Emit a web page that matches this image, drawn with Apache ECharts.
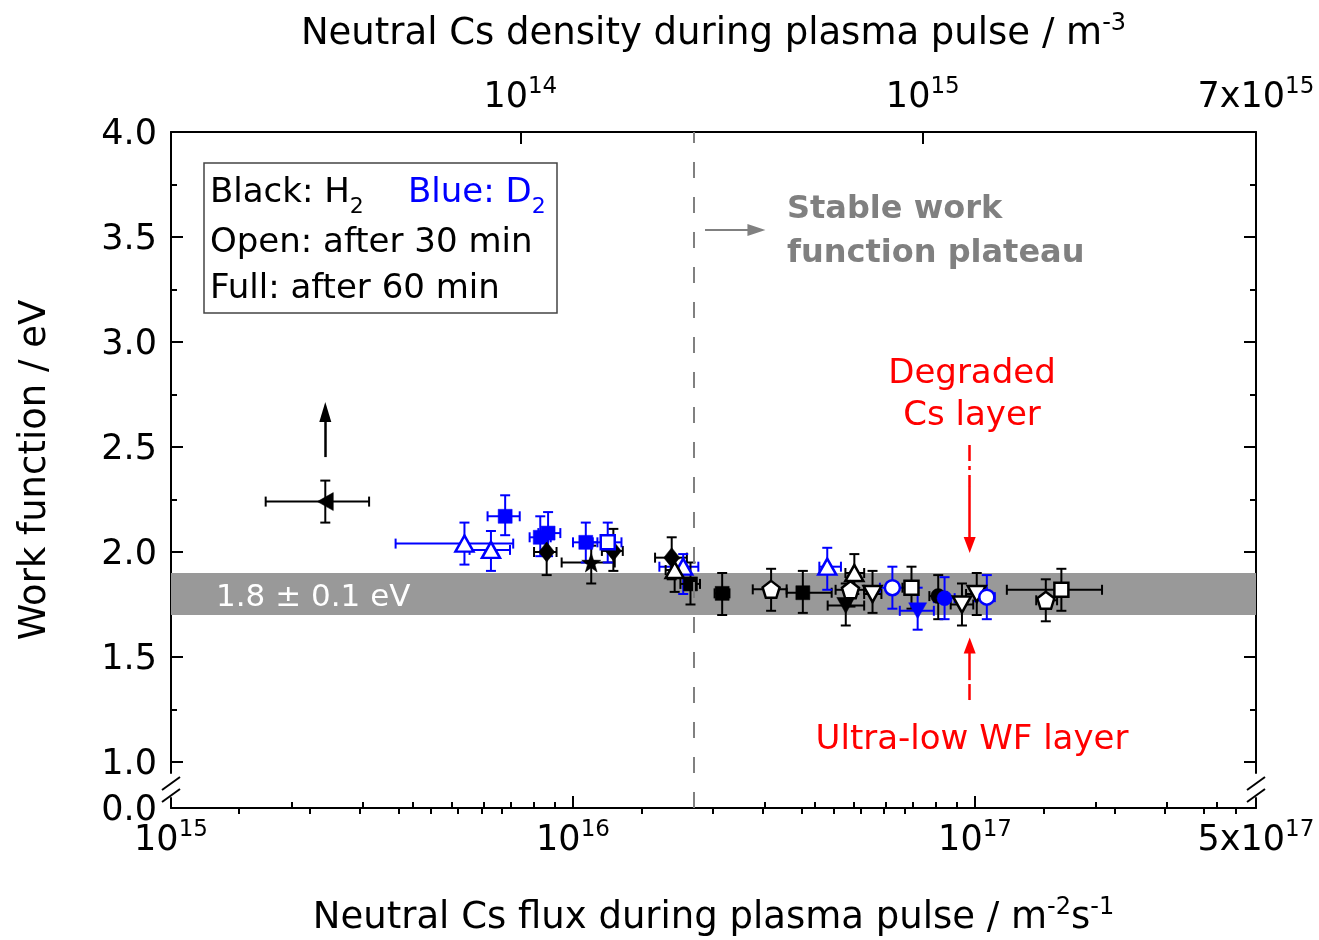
<!DOCTYPE html>
<html>
<head>
<meta charset="utf-8">
<script src="https://cdn.jsdelivr.net/npm/echarts@6.0.0/dist/echarts.min.js"></script>
<style>
html, body { margin: 0; padding: 0; background: #fff; }
#main { width: 1319px; height: 940px; }
</style>
</head>
<body>
<div id="main"></div>
<script>
// neutral Cs flux (m^-2 s^-1) with its error range
var flux =     [2.42e15, 5.37e15, 6.25e15, 6.78e15, 8.29e15, 8.67e15, 8.6e15, 1.11e16, 1.076e16, 1.26e16, 1.22e16, 1.76e16, 1.88e16, 1.79e16, 1.96e16, 2.35e16, 3.11e16, 3.73e16, 4.29e16, 4.77e16, 5.01e16, 4.9e16, 5.56e16, 6.23e16, 6.95e16, 7.2e16, 8.1e16, 8.4e16, 9.28e16, 1.01e17, 1.07e17, 1.5e17, 1.64e17]
var fluxLow =  [1.72e15, 3.62e15, 5.53e15, 6.13e15, 7.8e15, 8.2e15, 8.0e15, 9.37e15, 1.0e16, 1.18e16, 1.12e16, 1.6e16, 1.64e16, 1.7e16, 1.85e16, 2.25e16, 2.8e16, 3.4e16, 4.1e16, 4.3e16, 4.76e16, 4.5e16, 5.3e16, 5.8e16, 6.6e16, 6.5e16, 7.7e16, 7.9e16, 8.7e16, 9.5e16, 1.0e17, 1.42e17, 1.2e17]
var fluxHigh = [3.11e15, 7.1e15, 6.97e15, 7.37e15, 8.8e15, 9.3e15, 9.1e15, 1.27e16, 1.15e16, 1.33e16, 1.32e16, 1.92e16, 2.05e16, 1.9e16, 2.07e16, 2.45e16, 3.4e16, 4.4e16, 4.64e16, 5.3e16, 5.3e16, 5.3e16, 5.85e16, 6.7e16, 7.2e16, 7.9e16, 8.5e16, 8.9e16, 9.9e16, 1.07e17, 1.12e17, 1.6e17, 2.07e17]
// work function (eV) with its error range
var wf =       [2.24, 2.04, 2.01, 2.17, 2.07, 2.09, 2.00, 1.95, 2.046, 2.005, 2.046, 1.973, 1.93, 1.914, 1.848, 1.803, 1.822, 1.806, 1.93, 1.745, 1.90, 1.82, 1.80, 1.83, 1.83, 1.72, 1.79, 1.78, 1.75, 1.80, 1.785, 1.77, 1.82]
var wfLow =    [2.14, 1.94, 1.91, 2.08, 1.98, 1.98, 1.89, 1.85, 1.95, 1.91, 1.95, 1.87, 1.80, 1.81, 1.75, 1.70, 1.72, 1.71, 1.82, 1.65, 1.80, 1.74, 1.71, 1.73, 1.73, 1.63, 1.68, 1.68, 1.65, 1.70, 1.68, 1.67, 1.72]
var wfHigh =   [2.34, 2.14, 2.10, 2.27, 2.17, 2.19, 2.07, 2.03, 2.14, 2.11, 2.14, 2.07, 1.99, 1.97, 1.95, 1.90, 1.92, 1.91, 2.02, 1.85, 1.99, 1.90, 1.91, 1.93, 1.93, 1.83, 1.89, 1.88, 1.85, 1.90, 1.89, 1.87, 1.92]
var marker =   ['ltri', 'tri', 'tri', 'rect', 'rect', 'rect', 'diamond', 'star', 'rect', 'diamond', 'rect', 'diamond', 'tri', 'tri', 'rect', 'rect', 'pent', 'rect', 'tri', 'dtri', 'tri', 'pent', 'dtri', 'circle', 'rect', 'dtri', 'circle', 'circle', 'dtri', 'dtri', 'circle', 'pent', 'rect']
var gas =      ['H2', 'D2', 'D2', 'D2', 'D2', 'D2', 'H2', 'H2', 'D2', 'H2', 'D2', 'H2', 'D2', 'H2', 'H2', 'H2', 'H2', 'H2', 'D2', 'H2', 'H2', 'H2', 'H2', 'D2', 'H2', 'D2', 'H2', 'D2', 'H2', 'H2', 'D2', 'H2', 'H2']
var minutes =  [60, 30, 30, 60, 60, 60, 60, 60, 60, 60, 30, 60, 30, 30, 60, 60, 30, 60, 30, 60, 30, 30, 30, 30, 30, 60, 60, 60, 30, 30, 30, 30, 30]

// tick labels (axis ends sit a hair inside the extent so they are not dropped)
var xTickLabels = [1e15, 1e16, 1e17, 4.999e17]
var topTickLabels = [1e14, 1e15, 6.729e15]
var yTickLabels = [0, 1, 1.5, 2, 2.5, 3, 3.5, 4]

var BLACK = '#000000'
var BLUE = '#0000ff'
var RED = '#ff0000'
var GRAY = '#808080'
var FONT = 'DejaVu Sans'

var SYMBOLS = {
  rect: { symbol: 'rect', size: 14, rotate: 0 },
  tri: { symbol: 'triangle', size: [18, 16], rotate: 0 },
  dtri: { symbol: 'triangle', size: [18, 16], rotate: 180 },
  ltri: { symbol: 'triangle', size: [18, 16], rotate: 90 },
  diamond: { symbol: 'diamond', size: [16, 20], rotate: 0 },
  circle: { symbol: 'circle', size: 15, rotate: 0 },
  pent: { symbol: 'path://M0,-10L9.51,-3.09L5.88,8.09L-5.88,8.09L-9.51,-3.09Z', size: 17, rotate: 0 },
  star: { symbol: 'path://M0,-10L2.35,-3.24L9.51,-3.09L3.8,1.24L5.88,8.09L0,4L-5.88,8.09L-3.8,1.24L-9.51,-3.09L-2.35,-3.24Z', size: 19, rotate: 0 }
}

function logTicks (from, to, withMajor) {
  var out = []
  for (var e = from; e <= to; e++) {
    for (var m = withMajor ? 1 : 2; m <= 9; m++) out.push(m * Math.pow(10, e))
  }
  return out
}

function expLabel (v) {
  var e = Math.floor(Math.log10(v) + 1e-9)
  var m = Math.round(v / Math.pow(10, e))
  return (m === 1 ? '' : m + 'x') + '10{sup|' + e + '}'
}

var labelStyle = {
  color: BLACK,
  fontFamily: FONT,
  fontSize: 35,
  rich: { sup: { color: BLACK, fontFamily: FONT, fontSize: 23, padding: [0, 0, 21, 0] } }
}
var nameStyle = {
  color: BLACK,
  fontFamily: FONT,
  fontSize: 37,
  rich: { sup: { color: BLACK, fontFamily: FONT, fontSize: 24, padding: [0, 0, 20, 0] } }
}
var lineStyle = { color: BLACK, width: 2 }
var yBreaks = [{ start: 0.05, end: 0.95, gap: '3.7%' }]

function xAxisOf (pos, min, max, major, minor, labels, name, gap, margin) {
  return [{
    type: 'log',
    logBase: 10,
    min: min,
    max: max,
    position: pos,
    name: name,
    nameLocation: 'middle',
    nameGap: gap,
    nameTextStyle: nameStyle,
    axisLine: { onZero: false, lineStyle: lineStyle },
    axisTick: { inside: true, length: 12, lineStyle: lineStyle, customValues: major },
    axisLabel: Object.assign({ customValues: labels, formatter: expLabel, margin: margin, showMinLabel: true, showMaxLabel: true, hideOverlap: false }, labelStyle),
    splitLine: { show: false }
  }, {
    type: 'log',
    logBase: 10,
    min: min,
    max: max,
    position: pos,
    axisLine: { show: false },
    axisTick: { inside: true, length: 6, lineStyle: lineStyle, customValues: minor },
    axisLabel: { show: false },
    splitLine: { show: false }
  }]
}

function yAxisOf (pos, withLabels) {
  return [{
    type: 'value',
    min: 0,
    max: 4,
    position: pos,
    breaks: yBreaks,
    breakArea: { show: false },
    name: withLabels ? 'Work function / eV' : '',
    nameLocation: 'middle',
    nameRotate: 90,
    nameGap: 117,
    nameTextStyle: nameStyle,
    axisLine: { onZero: false, lineStyle: lineStyle },
    axisTick: { inside: true, length: 12, lineStyle: lineStyle, customValues: [1, 1.5, 2, 2.5, 3, 3.5] },
    axisLabel: withLabels
      ? Object.assign({ customValues: yTickLabels, formatter: function (v) { return v.toFixed(1) }, margin: 14, padding: [6, 0, 0, 0] }, labelStyle)
      : { show: false },
    splitLine: { show: false }
  }, {
    type: 'value',
    min: 0,
    max: 4,
    position: pos,
    breaks: yBreaks,
    breakArea: { show: false },
    axisLine: { show: false },
    axisTick: { inside: true, length: 6, lineStyle: lineStyle, customValues: [1.25, 1.75, 2.25, 2.75, 3.25, 3.75] },
    axisLabel: { show: false },
    splitLine: { show: false }
  }]
}

var errorData = flux.map(function (x, i) {
  return [x, wf[i], fluxLow[i], fluxHigh[i], wfLow[i], wfHigh[i], gas[i] === 'D2' ? 1 : 0]
})

var pointData = flux.map(function (x, i) {
  var color = gas[i] === 'D2' ? BLUE : BLACK
  var open = minutes[i] === 30
  var s = SYMBOLS[marker[i]]
  return {
    value: [x, wf[i]],
    symbol: s.symbol,
    symbolSize: s.size,
    symbolRotate: s.rotate,
    itemStyle: { color: open ? '#ffffff' : color, borderColor: color, borderWidth: open ? 2.5 : 0.5, opacity: 1 }
  }
})

function renderErrorBar (params, api) {
  var x = api.value(0)
  var y = api.value(1)
  var p = api.coord([x, y])
  var l = api.coord([api.value(2), y])
  var r = api.coord([api.value(3), y])
  var b = api.coord([x, api.value(4)])
  var t = api.coord([x, api.value(5)])
  var color = api.value(6) === 1 ? BLUE : BLACK
  var cap = 5
  var segs = [
    [l[0], p[1], r[0], p[1]],
    [l[0], p[1] - cap, l[0], p[1] + cap],
    [r[0], p[1] - cap, r[0], p[1] + cap],
    [p[0], b[1], p[0], t[1]],
    [p[0] - cap, b[1], p[0] + cap, b[1]],
    [p[0] - cap, t[1], p[0] + cap, t[1]]
  ]
  return {
    type: 'group',
    children: segs.map(function (s) {
      return { type: 'line', shape: { x1: s[0], y1: s[1], x2: s[2], y2: s[3] }, style: { stroke: color, lineWidth: 2 } }
    })
  }
}

function arrow (from, to, color, width, type, head) {
  return [
    { coord: from, symbol: 'none', lineStyle: { color: color, width: width, type: type } },
    { coord: to, symbol: head ? 'triangle' : 'none', symbolSize: head || 0 }
  ]
}

function text (x, y, str, style) {
  return {
    type: 'text',
    x: x,
    y: y,
    z: 100,
    style: Object.assign({ text: str, fontFamily: FONT, align: 'left', verticalAlign: 'middle' }, style)
  }
}

function slash (x1, y1, x2, y2) {
  return { type: 'line', z: 101, shape: { x1: x1, y1: y1, x2: x2, y2: y2 }, style: { stroke: BLACK, lineWidth: 2 } }
}

var chart = echarts.init(document.getElementById('main'))
chart.setOption({
  animation: false,
  backgroundColor: '#ffffff',
  grid: { left: 171, right: 63, top: 132, bottom: 132, containLabel: false, outerBoundsMode: 'none' },
  xAxis: []
    .concat(xAxisOf('bottom', 1e15, 5e17, [1e16, 1e17], logTicks(15, 16, false).concat([2e17, 3e17, 4e17]), xTickLabels,
      'Neutral Cs flux during plasma pulse / m{sup|-2}s{sup|-1}', 88, 11))
    .concat(xAxisOf('top', 1.355e13, 6.73e15, [1e14, 1e15], [2e13, 3e13, 4e13, 5e13, 6e13, 7e13, 8e13, 9e13].concat(logTicks(14, 14, false), [2e15, 3e15, 4e15, 5e15, 6e15]), topTickLabels,
      'Neutral Cs density during plasma pulse / m{sup|-3}', 76, 12)),
  yAxis: yAxisOf('left', true).concat(yAxisOf('right', false)),
  series: [
    {
      type: 'line',
      data: [],
      z: 1,
      markArea: {
        silent: true,
        itemStyle: { color: '#999999' },
        label: { show: true, position: 'insideLeft', distance: 45, offset: [0, 4], color: '#ffffff', fontFamily: FONT, fontSize: 31 },
        data: [[{ yAxis: 1.7, name: '1.8 ± 0.1 eV' }, { yAxis: 1.9 }]]
      }
    },
    {
      type: 'line',
      data: [],
      z: 2,
      markLine: {
        silent: true,
        symbol: ['none', 'none'],
        label: { show: false },
        data: [
          { xAxis: 2e16, lineStyle: { color: GRAY, width: 2, type: [16, 19] } },
          arrow([2.13e16, 3.533], [2.86e16, 3.533], GRAY, 2, 'solid', [12, 18]),
          arrow([2.42e15, 2.452], [2.42e15, 2.667], BLACK, 2.5, 'solid', [12, 20]),
          arrow([9.7e16, 2.51], [9.7e16, 2.31], RED, 2.5, [16, 5, 4, 5], null),
          arrow([9.7e16, 2.31], [9.7e16, 2.033], RED, 2.5, 'solid', [12, 16]),
          arrow([9.7e16, 1.295], [9.7e16, 1.39], RED, 2.5, [16, 5, 4, 5], null),
          arrow([9.7e16, 1.39], [9.7e16, 1.555], RED, 2.5, 'solid', [12, 16])
        ]
      }
    },
    {
      type: 'custom',
      z: 3,
      renderItem: renderErrorBar,
      encode: { x: 0, y: 1 },
      data: errorData
    },
    {
      type: 'scatter',
      z: 4,
      data: pointData
    }
  ],
  graphic: [
    { type: 'rect', z: 99, shape: { x: 204, y: 163, width: 353, height: 150 }, style: { fill: '#ffffff', stroke: '#444444', lineWidth: 1.5 } },
    text(210, 193, 'Black: H{sub|2}', { fill: BLACK, fontSize: 34, rich: { sub: { fill: BLACK, fontFamily: FONT, fontSize: 22, padding: [28, 0, 0, 0] } } }),
    text(408, 193, 'Blue: D{sub|2}', { fill: BLUE, fontSize: 34, rich: { sub: { fill: BLUE, fontFamily: FONT, fontSize: 22, padding: [28, 0, 0, 0] } } }),
    text(210, 243, 'Open: after 30 min', { fill: BLACK, fontSize: 34 }),
    text(210, 289, 'Full: after 60 min', { fill: BLACK, fontSize: 34 }),
    text(787, 210, 'Stable work', { fill: GRAY, fontSize: 32, fontWeight: 'bold' }),
    text(787, 254, 'function plateau', { fill: GRAY, fontSize: 32, fontWeight: 'bold' }),
    text(972, 374, 'Degraded', { fill: RED, fontSize: 34, align: 'center' }),
    text(972, 416, 'Cs layer', { fill: RED, fontSize: 34, align: 'center' }),
    text(972, 740, 'Ultra-low WF layer', { fill: RED, fontSize: 34, align: 'center' }),
    // axis break marks
    { type: 'rect', z: 100, shape: { x: 167, y: 784, width: 8, height: 11 }, style: { fill: '#ffffff' } },
    { type: 'rect', z: 100, shape: { x: 1252, y: 784, width: 8, height: 11 }, style: { fill: '#ffffff' } },
    slash(162, 790, 180, 777),
    slash(162, 802, 180, 789),
    slash(1247, 790, 1265, 777),
    slash(1247, 802, 1265, 789)
  ]
})
</script>
</body>
</html>
